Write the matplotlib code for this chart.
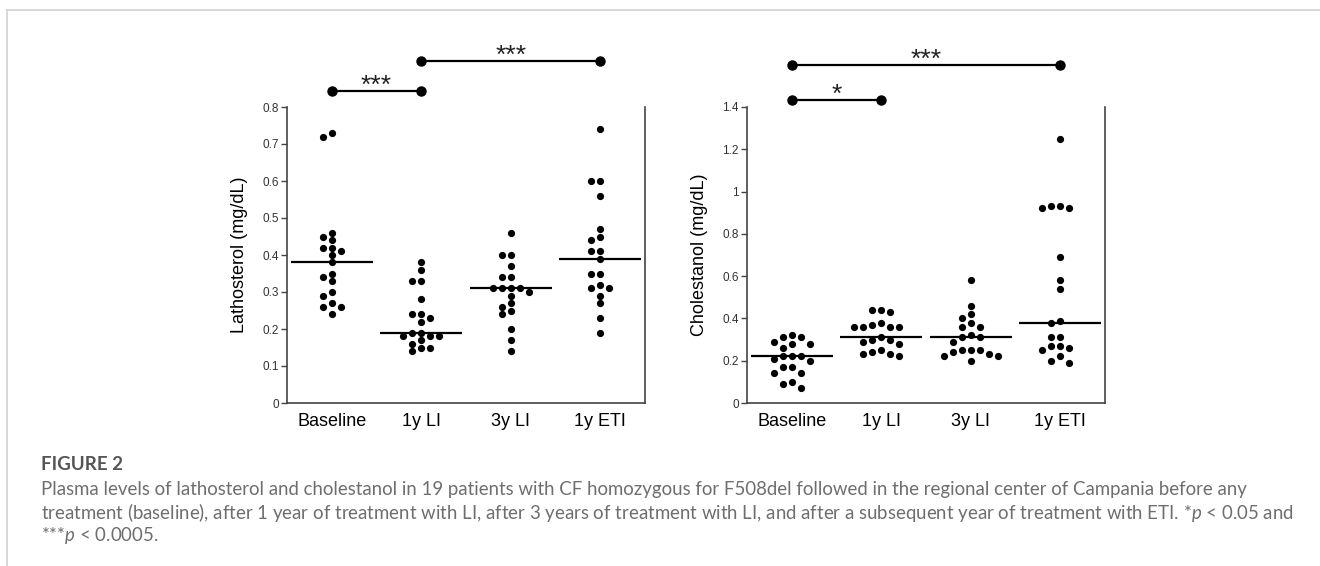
import matplotlib
matplotlib.use('Agg')
import matplotlib.pyplot as plt
import matplotlib.transforms as mtransforms
from matplotlib.lines import Line2D
from matplotlib.ticker import FuncFormatter, MultipleLocator
import numpy as np

plt.rcParams['font.family'] = ['Liberation Sans', 'DejaVu Sans']
plt.rcParams['mathtext.fontset'] = 'custom'
plt.rcParams['mathtext.it'] = 'Lato:italic'
plt.rcParams['mathtext.rm'] = 'Lato'

groups = ['Baseline', '1y LI', '3y LI', '1y ETI']

# lathosterol (mg/dL), 19 patients per time point
latho_baseline = [0.73, 0.72, 0.46, 0.45, 0.44, 0.42, 0.42, 0.41, 0.40, 0.38,
                  0.35, 0.34, 0.33, 0.30, 0.29, 0.27, 0.26, 0.26, 0.24]
latho_1y_li = [0.38, 0.36, 0.33, 0.33, 0.28, 0.24, 0.24, 0.23, 0.22, 0.19,
               0.19, 0.18, 0.18, 0.18, 0.17, 0.16, 0.15, 0.15, 0.14]
latho_3y_li = [0.46, 0.40, 0.40, 0.37, 0.34, 0.34, 0.31, 0.31, 0.31, 0.31,
               0.30, 0.29, 0.27, 0.26, 0.25, 0.24, 0.20, 0.17, 0.14]
latho_1y_eti = [0.74, 0.60, 0.60, 0.56, 0.47, 0.45, 0.44, 0.41, 0.41, 0.39,
                0.35, 0.35, 0.32, 0.31, 0.31, 0.29, 0.27, 0.23, 0.19]

# cholestanol (mg/dL)
chol_baseline = [0.32, 0.31, 0.31, 0.29, 0.28, 0.28, 0.26, 0.22, 0.22, 0.22,
                 0.21, 0.20, 0.17, 0.17, 0.14, 0.14, 0.10, 0.09, 0.07]
chol_1y_li = [0.44, 0.44, 0.43, 0.38, 0.37, 0.36, 0.36, 0.36, 0.36, 0.31,
              0.30, 0.30, 0.29, 0.28, 0.25, 0.24, 0.23, 0.23, 0.22]
chol_3y_li = [0.58, 0.46, 0.42, 0.40, 0.38, 0.36, 0.36, 0.32, 0.31, 0.31,
              0.29, 0.25, 0.25, 0.25, 0.24, 0.23, 0.22, 0.22, 0.20]
chol_1y_eti = [1.25, 0.93, 0.93, 0.92, 0.92, 0.69, 0.58, 0.54, 0.39, 0.38,
               0.31, 0.31, 0.27, 0.27, 0.26, 0.25, 0.22, 0.20, 0.19]

# significance comparisons: (group a, group b, label)
latho_tests = [(0, 1, '***'), (1, 3, '***')]
chol_tests = [(0, 1, '*'), (0, 3, '***')]

caption_title = 'FIGURE 2'
caption_lines = [
    'Plasma levels of lathosterol and cholestanol in 19 patients with CF homozygous for F508del followed in the regional center of Campania before any',
    'treatment (baseline), after 1 year of treatment with LI, after 3 years of treatment with LI, and after a subsequent year of treatment with ETI. *$p$ < 0.05 and',
    '***$p$ < 0.0005.',
]

W, H = 1320, 566
fig = plt.figure(figsize=(W / 100, H / 100), dpi=100)


def swarm(vals, ppx, ppy, step=0.1, dmin=7.2):
    # simple beeswarm: drop points top-down, shift sideways on collision
    order = sorted(range(len(vals)), key=lambda i: -vals[i])
    placed = []
    offs = [0.0] * len(vals)
    for i in order:
        for k in [0, -1, 1, -2, 2, -3, 3, -4, 4, -5, 5]:
            x = k * step
            ok = True
            for px, py in placed:
                if ((x - px) * ppx) ** 2 + ((vals[i] - py) * ppy) ** 2 < dmin ** 2:
                    ok = False
                    break
            if ok:
                break
        placed.append((x, vals[i]))
        offs[i] = x
    return offs


def panel(rect, data, ymax, ystep, ylabel, tests, levels):
    ax = fig.add_axes(rect)
    ax.set_xlim(-0.5, 3.5)
    ax.set_ylim(0, ymax)
    ppx = rect[2] * W / 4.0
    ppy = rect[3] * H / ymax
    for g, vals in enumerate(data):
        offs = swarm(vals, ppx, ppy)
        ax.plot([g + o for o in offs], vals, 'o', color='black', ms=5.2,
                mec='none', clip_on=False, zorder=3)
        med = np.median(vals)
        ax.plot([g - 0.46, g + 0.46], [med, med], color='black', lw=1.6,
                solid_capstyle='butt', zorder=2)
    for s in ['left', 'bottom', 'right']:
        ax.spines[s].set_color('#444444')
        ax.spines[s].set_linewidth(1.2)
    ax.spines['top'].set_visible(False)
    ax.set_xticks(range(len(groups)))
    ax.set_xticklabels(groups, fontsize=13, color='black')
    ax.tick_params(axis='x', length=0, pad=7)
    ax.yaxis.set_major_locator(MultipleLocator(ystep))
    ax.yaxis.set_major_formatter(FuncFormatter(lambda v, p: '{:g}'.format(round(v, 2))))
    ax.tick_params(axis='y', length=4, width=1.0, color='#444444',
                   labelsize=8.5, labelcolor='#333333', pad=2)
    ax.set_ylabel(ylabel, fontsize=13, labelpad=10)

    trans = mtransforms.blended_transform_factory(ax.transData, ax.transAxes)
    for (a, b, lab), lev in zip(tests, levels):
        ax.add_line(Line2D([a, b], [lev, lev], transform=trans, color='black',
                           lw=1.6, marker='o', ms=6.5, clip_on=False))
        ax.annotate(lab, xy=((a + b) / 2, lev),
                    xycoords=trans, xytext=(0, -1.5), textcoords='offset points',
                    ha='center', va='baseline', fontsize=19, color='#222222',
                    annotation_clip=False)
    return ax


panel([287 / W, 163 / H, 358 / W, 296 / H],
      [latho_baseline, latho_1y_li, latho_3y_li, latho_1y_eti],
      0.8, 0.1, 'Lathosterol (mg/dL)', latho_tests, [1.054, 1.155])
panel([747 / W, 163 / H, 358 / W, 296 / H],
      [chol_baseline, chol_1y_li, chol_3y_li, chol_1y_eti],
      1.4, 0.2, 'Cholestanol (mg/dL)', chol_tests, [1.025, 1.143])

# light frame along the top and left edges
fig.add_artist(Line2D([7 / W, 1], [1 - 10 / H, 1 - 10 / H], color='#d4d4d4', lw=1.3))
fig.add_artist(Line2D([7 / W, 7 / W], [0, 1 - 10 / H], color='#d4d4d4', lw=1.3))

fig.text(41 / W, 1 - 465 / H, caption_title, family='Lato', weight='bold',
         fontsize=13.5, color='#555555', va='center')
for i, line in enumerate(caption_lines):
    fig.text(41 / W, 1 - (489 + 23 * i) / H, line, family='Lato',
             fontsize=13.4, color='#6e6e6e', va='center')

fig.savefig('out.png', dpi=100)
